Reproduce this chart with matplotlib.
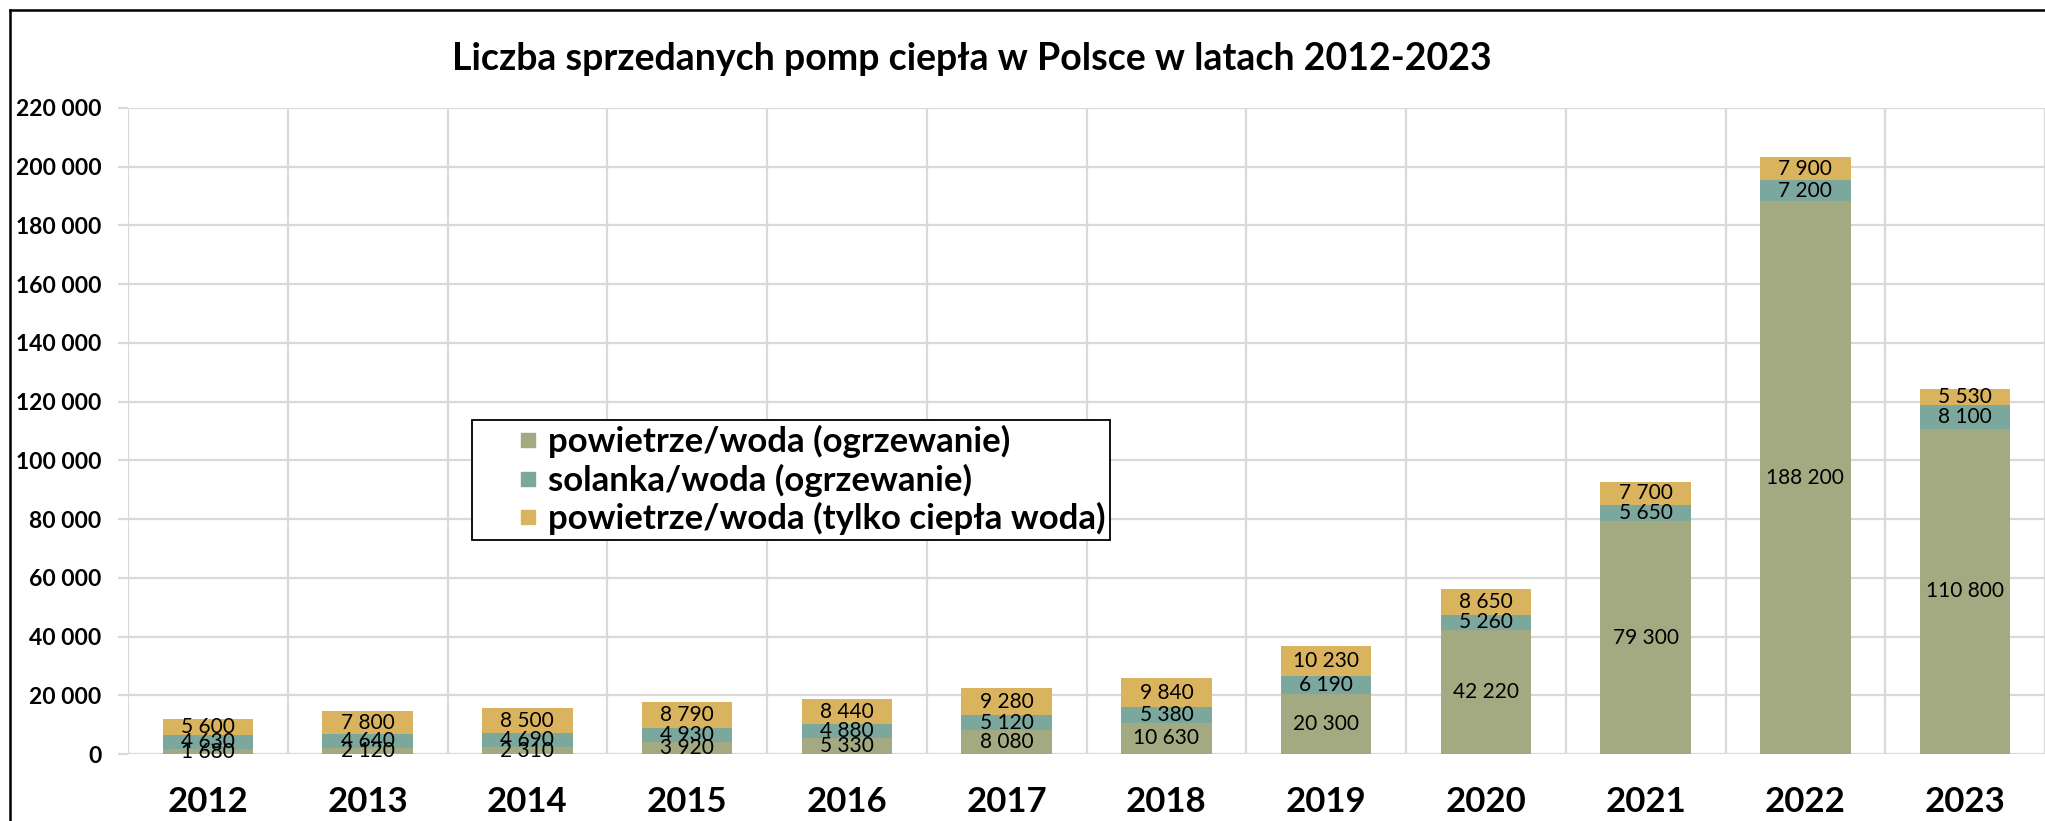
import matplotlib
matplotlib.use("Agg")
import matplotlib.pyplot as plt
from matplotlib.lines import Line2D
from matplotlib.ticker import FuncFormatter
import numpy as np

plt.rcParams['font.family'] = ['Lato', 'DejaVu Sans']

years = ['2012', '2013', '2014', '2015', '2016', '2017', '2018', '2019', '2020', '2021', '2022', '2023']
air_heat = [1680, 2120, 2310, 3920, 5330, 8080, 10630, 20300, 42220, 79300, 188200, 110800]
brine = [4630, 4640, 4690, 4930, 4880, 5120, 5380, 6190, 5260, 5650, 7200, 8100]
air_dhw = [5600, 7800, 8500, 8790, 8440, 9280, 9840, 10230, 8650, 7700, 7900, 5530]

names = ['powietrze/woda (ogrzewanie)', 'solanka/woda (ogrzewanie)', 'powietrze/woda (tylko ciepła woda)']
colors = ['#A3A980', '#7BA79C', '#D9B35E']
title = 'Liczba sprzedanych pomp ciepła w Polsce w latach 2012-2023'


def fmt(v):
    return f'{int(v):,}'.replace(',', ' ')


W, H = 2045, 821
fig = plt.figure(figsize=(W / 100, H / 100), dpi=100)
ax = fig.add_axes([128 / W, 1 - 754 / H, 1 - 128 / W, (754 - 108) / H])

x = np.arange(len(years))
bottom = np.zeros(len(years))
for vals, name, c in zip([air_heat, brine, air_dhw], names, colors):
    vals = np.array(vals, dtype=float)
    ax.bar(x, vals, 0.565, bottom=bottom, color=c, zorder=3)
    for xi, b, v in zip(x, bottom, vals):
        ax.text(xi, b + v / 2, fmt(v), ha='center', va='center', fontsize=15, color='black', zorder=4)
    bottom += vals

ax.set_xlim(-0.5, 11.373)
ax.set_ylim(0, 220000)
ax.set_yticks(np.arange(0, 220001, 20000))
ax.yaxis.set_major_formatter(FuncFormatter(lambda v, p: fmt(v)))
ax.set_xticks(x)
ax.set_xticklabels(years)
ax.set_xticks(np.arange(-0.5, 12, 1), minor=True)

for s in ax.spines.values():
    s.set_visible(False)
ax.grid(axis='y', which='major', color='#D9D9D9', lw=1.6, zorder=0)
ax.grid(axis='x', which='minor', color='#D9D9D9', lw=1.6, zorder=0)
ax.tick_params(axis='y', length=7, width=1.6, color='#D9D9D9', pad=12, labelsize=16.5)
ax.tick_params(axis='x', which='both', length=0, pad=23, labelsize=25)
for lab in ax.get_xticklabels() + ax.get_yticklabels():
    lab.set_fontweight('bold')

# square markers as legend keys
handles = [Line2D([], [], ls='none', marker='s', markersize=9.5, markerfacecolor=c, markeredgecolor=c)
           for c in colors]
leg = ax.legend(handles, names, loc='upper left', bbox_to_anchor=(472 / W, 1 - 420 / H),
                bbox_transform=fig.transFigure, borderaxespad=0, fancybox=False,
                edgecolor='black', framealpha=1, prop={'size': 25, 'weight': 'bold'},
                handlelength=2.93, handletextpad=-0.9, labelspacing=0.15, borderpad=0.15)
leg.get_frame().set_linewidth(1.3)
leg.set_zorder(5)

fig.text(972 / W, 1 - 59 / H, title, ha='center', va='center', fontsize=27, fontweight='bold')

fig.add_artist(Line2D([10 / W, 10 / W], [0, 1 - 10 / H], transform=fig.transFigure, color='black', lw=1.8))
fig.add_artist(Line2D([10 / W, 1], [1 - 10 / H, 1 - 10 / H], transform=fig.transFigure, color='black', lw=1.8))

fig.savefig('out.png', dpi=100)
